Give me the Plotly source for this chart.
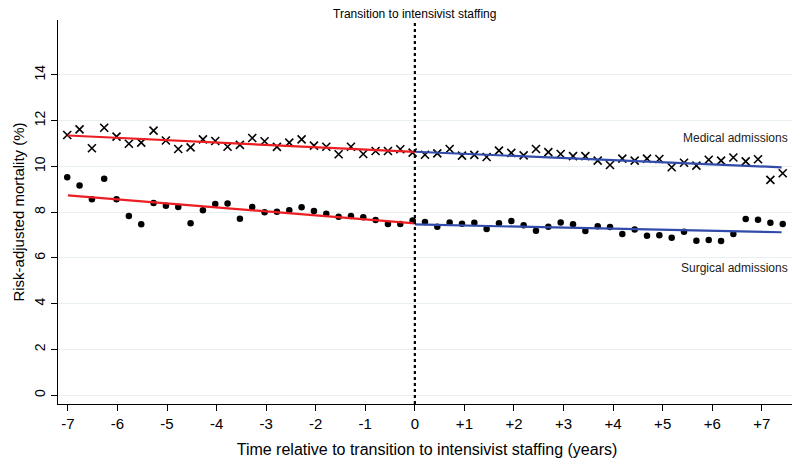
import plotly.graph_objects as go

# Quarter index relative to transition (0 = transition quarter)
quarter_index = list(range(-28, 31))
# time in years for each quarter (91-day quarters, centred slightly before the transition)
time_years = [round(q * 0.2489 - 0.045, 3) for q in quarter_index]

medical = [11.37, 11.62, 10.79, 11.69, 11.30, 10.99, 11.04, 11.56, 11.13, 10.76,
           10.83, 11.18, 11.11, 10.86, 10.94, 11.24, 11.10, 10.85, 11.04, 11.18,
           10.91, 10.86, 10.53, 10.86, 10.54, 10.67, 10.67, 10.75, 10.60, 10.51,
           10.57, 10.76, 10.47, 10.50, 10.41, 10.69, 10.59, 10.48, 10.76, 10.62,
           10.54, 10.45, 10.45, 10.25, 10.06, 10.34, 10.25, 10.34, 10.32, 9.96,
           10.16, 10.03, 10.29, 10.25, 10.39, 10.22, 10.31, 9.41, 9.70]

surgical = [9.52, 9.16, 8.56, 9.46, 8.56, 7.83, 7.47, 8.40, 8.28, 8.22,
            7.51, 8.08, 8.36, 8.38, 7.71, 8.22, 7.99, 8.02, 8.08, 8.21,
            8.05, 7.93, 7.80, 7.83, 7.77, 7.66, 7.48, 7.48, 7.63, 7.57,
            7.36, 7.55, 7.49, 7.54, 7.26, 7.51, 7.61, 7.43, 7.19, 7.36,
            7.55, 7.47, 7.17, 7.38, 7.35, 7.04, 7.24, 6.97, 6.99, 6.88,
            7.14, 6.75, 6.78, 6.74, 7.04, 7.70, 7.67, 7.54, 7.48]

# Fitted trend lines (start/end of each segment)
pre_x = [-7.0, 0.0]
post_x = [0.0, 7.4]
medical_pre_fit = [11.35, 10.63]
medical_post_fit = [10.64, 9.96]
surgical_pre_fit = [8.73, 7.51]
surgical_post_fit = [7.46, 7.12]

x_tick_vals = list(range(-7, 8))
x_tick_text = [str(v) if v <= 0 else "+" + str(v) for v in x_tick_vals]
y_tick_vals = [0, 2, 4, 6, 8, 10, 12, 14]

RED = "rgb(235,30,35)"
BLUE = "rgb(50,75,170)"
FONT = "Liberation Sans, Arial, sans-serif"

fig = go.Figure()
fig.add_trace(go.Scatter(x=time_years, y=medical, mode="markers",
                         marker=dict(symbol="x-thin", size=8, color="black",
                                     line=dict(width=1.6, color="black")),
                         showlegend=False))
fig.add_trace(go.Scatter(x=time_years, y=surgical, mode="markers",
                         marker=dict(symbol="circle", size=6.5, color="black"),
                         showlegend=False))
for xs, ys, c in [(pre_x, medical_pre_fit, RED), (post_x, medical_post_fit, BLUE),
                  (pre_x, surgical_pre_fit, RED), (post_x, surgical_post_fit, BLUE)]:
    fig.add_trace(go.Scatter(x=xs, y=ys, mode="lines", line=dict(color=c, width=2.2),
                             showlegend=False))

fig.add_shape(type="line", x0=0, x1=0, y0=0, y1=1, xref="x", yref="paper",
              line=dict(color="black", width=2.2, dash="dot"))

fig.add_annotation(x=0, y=1, xref="x", yref="paper", yanchor="bottom", showarrow=False,
                   text="Transition to intensivist staffing", yshift=-3,
                   font=dict(family=FONT, size=12, color="black"))
fig.add_annotation(x=7.57, y=11.25, xref="x", yref="y", xanchor="right", showarrow=False,
                   text="Medical admissions", font=dict(family=FONT, size=12, color="#222"))
fig.add_annotation(x=7.57, y=5.55, xref="x", yref="y", xanchor="right", showarrow=False,
                   text="Surgical admissions", font=dict(family=FONT, size=12, color="#222"))

fig.update_layout(
    width=792, height=458,
    margin=dict(l=50, r=4, t=12, b=62),
    plot_bgcolor="white", paper_bgcolor="white",
    font=dict(family=FONT, color="black"),
)
fig.update_xaxes(range=[-7.2, 7.69], tickvals=x_tick_vals, ticktext=x_tick_text,
                 automargin=False,
                 showgrid=False, zeroline=False, showline=True, linecolor="black",
                 linewidth=1, ticks="outside", ticklen=6, tickcolor="black",
                 tickfont=dict(family=FONT, size=15),
                 title=dict(text="Time relative to transition to intensivist staffing (years)",
                            font=dict(family=FONT, size=16), standoff=12))
fig.update_yaxes(range=[-0.39, 16.4], tickvals=y_tick_vals, tickangle=-90,
                 automargin=False,
                 showgrid=True, gridcolor="rgb(232,239,240)", gridwidth=1.2,
                 zeroline=False, showline=True, linecolor="black", linewidth=1,
                 ticks="outside", ticklen=6, tickcolor="black",
                 tickfont=dict(family=FONT, size=14),
                 title=dict(text="Risk-adjusted mortality (%)",
                            font=dict(family=FONT, size=15), standoff=4))

fig.write_html("out.html")
